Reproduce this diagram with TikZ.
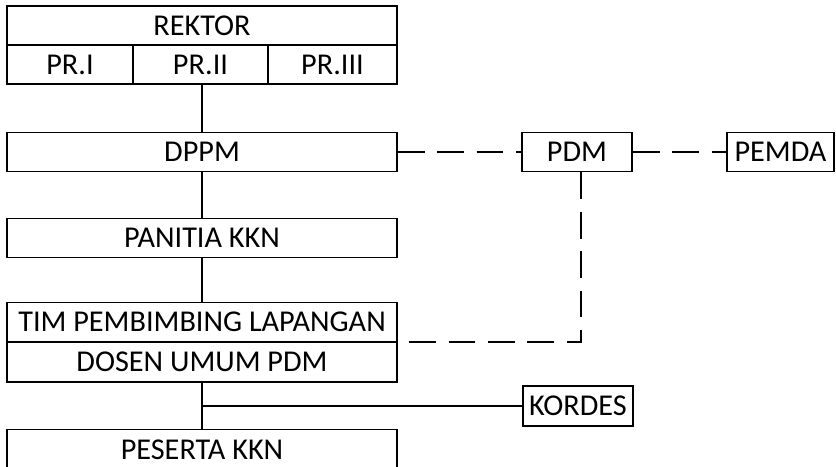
\documentclass[tikz,border=0pt]{standalone}
\usepackage{fontspec}
\setmainfont{Carlito}
\usepackage{tikz}
\usetikzlibrary{calc,positioning}

\tikzset{
  unit/.style={draw, line width=1.3pt, inner sep=0pt, minimum height=39*0.025cm,
    font=\fontsize{21.5}{24}\selectfont},
  wide/.style={unit, minimum width=390*0.025cm},
  link/.style={line width=1.3pt},
  dotlink/.style={line width=1.4pt, dash pattern=on 19pt off 9pt}
}

\begin{document}
\begin{tikzpicture}[x=0.025cm, y=-0.025cm]
            \useasboundingbox (0,0) rectangle (836,467);
            % Draw the top box with its three parts
            \node[wide] (rektor) at (202,25.5) {REKTOR};
            \node[unit, minimum width=126*0.025cm] (pr1) at (70,64.5) {PR.I};
            \node[unit, minimum width=135*0.025cm] (pr2) at (200.5,64.5) {PR.II};
            \node[unit, minimum width=129*0.025cm] (pr3) at (332.5,64.5) {PR.III};
            % Draw the main column
            \node[wide] (dppm) at (202,152) {DPPM};
            \node[wide] (panitia) at (202,238) {PANITIA KKN};
            \node[wide] (tim) at (202,322) {TIM PEMBIMBING LAPANGAN};
            \node[wide, minimum height=40*0.025cm] (dosen) at (202,362) {DOSEN UMUM PDM};
            \node[wide, minimum height=40*0.025cm] (peserta) at (202,449.5) {PESERTA KKN};
            % Draw the side boxes
            \node[unit, minimum width=110*0.025cm] (pdm) at (577,152) {PDM};
            \node[unit, minimum width=107*0.025cm] (pemda) at (780.5,152) {PEMDA};
            \node[unit, minimum width=110*0.025cm, minimum height=40*0.025cm] (kordes) at (578,406) {KORDES};
            % Solid links
            \draw[link] (pr2.south -| dppm.north) -- (dppm.north);
            \draw[link] (dppm) -- (panitia);
            \draw[link] (panitia) -- (tim);
            \draw[link] (dosen) -- (peserta);
            \draw[link] (kordes.west) -- (kordes.west -| dosen.south);
            % Dashed links
            \draw[dotlink] (dppm.east) -- (pdm.west);
            \draw[dotlink] (pdm.east) -- (pemda.west);
            \draw[dotlink] ([xshift=4*0.025cm]pdm.south) |- (tim.south east);
          \end{tikzpicture}
\end{document}
